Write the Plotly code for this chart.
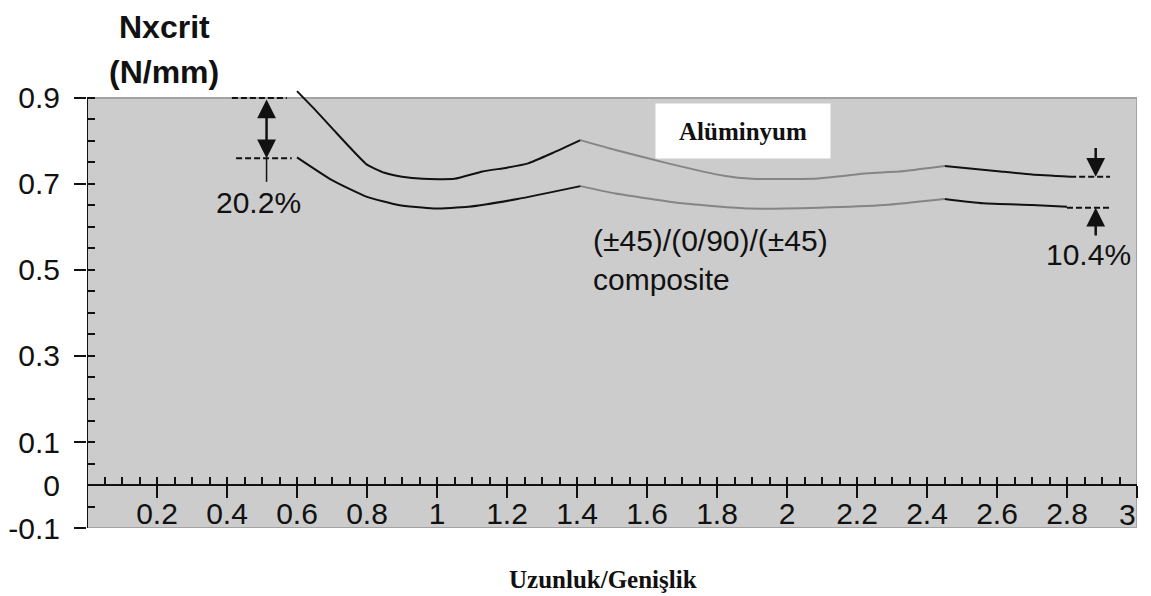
import plotly.graph_objects as go

# ---------------- data ----------------
upper_x = [0.60, 0.65, 0.70, 0.75, 0.80, 0.85, 0.90, 0.96, 1.05, 1.13, 1.20, 1.26, 1.33, 1.41,
           1.51, 1.66, 1.82, 1.90, 2.09, 2.23, 2.32, 2.45,
           2.61, 2.70, 2.81]
upper_y = [0.916, 0.874, 0.830, 0.786, 0.745, 0.726, 0.717, 0.712, 0.712, 0.729, 0.738, 0.748, 0.772, 0.802,
           0.779, 0.748, 0.719, 0.712, 0.713, 0.725, 0.729, 0.742,
           0.729, 0.722, 0.717]
lower_x = [0.60, 0.70, 0.80, 0.89, 0.99, 1.09, 1.23, 1.41,
           1.51, 1.70, 1.89, 2.09, 2.28, 2.45,
           2.56, 2.70, 2.80]
lower_y = [0.762, 0.709, 0.670, 0.651, 0.643, 0.647, 0.665, 0.695,
           0.678, 0.655, 0.643, 0.645, 0.651, 0.665,
           0.655, 0.651, 0.647]
break_points = [1.41, 2.45]          # black | gray | black
segment_colors = ["#111111", "#858585", "#111111"]

x_tick_vals = [0.2, 0.4, 0.6, 0.8, 1.0, 1.2, 1.4, 1.6, 1.8, 2.0, 2.2, 2.4, 2.6, 2.8, 3.0]
x_tick_text = ["0.2", "0.4", "0.6", "0.8", "1", "1.2", "1.4", "1.6", "1.8", "2", "2.2", "2.4", "2.6", "2.8", "3"]
y_tick_vals = [0.9, 0.7, 0.5, 0.3, 0.1, 0.0, -0.1]
y_tick_text = ["0.9", "0.7", "0.5", "0.3", "0.1", "0", "-0.1"]
y_major_ticks = [0.9, 0.7, 0.5, 0.3, 0.1, -0.1]

y_title = ["Nxcrit", "(N/mm)"]
x_title = "Uzunluk/Genişlik"
box_label = "Alüminyum"
composite_label = "(±45)/(0/90)/(±45)<br>composite"
left_pct = "20.2%"
right_pct = "10.4%"

left_gap = (0.900, 0.760)     # upper / lower levels at the start
right_gap = (0.717, 0.645)    # upper / lower levels at the end

SANS = "Liberation Sans, Arial, sans-serif"
SERIF = "Liberation Serif, Times New Roman, serif"

# the page adds an 8px body margin, so the figure is 8px smaller than the window
OFF = 8
W, H = 1151 - OFF, 596 - OFF
ML, MR, MT, MB = 79, 14, 73, 68
Y_TOP = 0.9395

fig = go.Figure()

# axis pairs used by the traces so that the overlay tick axes get drawn
axis_pairs = [("x", "y"), ("x2", "y2"), ("x", "y3")]


def add_segments(xs, ys, k):
    bounds = [min(xs)] + break_points + [max(xs)]
    for i, col in enumerate(segment_colors):
        lo, hi = bounds[i], bounds[i + 1]
        sx = [x for x in xs if lo - 1e-9 <= x <= hi + 1e-9]
        sy = [y for x, y in zip(xs, ys) if lo - 1e-9 <= x <= hi + 1e-9]
        xa, ya = axis_pairs[(k + i) % 3]
        fig.add_trace(go.Scatter(x=sx, y=sy, mode="lines", showlegend=False,
                                 xaxis=xa, yaxis=ya,
                                 line=dict(color=col, width=2, shape="spline", smoothing=0.5),
                                 hoverinfo="skip"))


add_segments(upper_x, upper_y, 0)
add_segments(lower_x, lower_y, 1)

# the last x label ("3") sits flush with the right edge, so it is drawn as an annotation
x_axis_text = x_tick_text[:-1] + [""]

xpos = 0.1 / (Y_TOP + 0.1)
common = dict(showgrid=False, zeroline=False, automargin=False)
fig.update_layout(
    width=W, height=H,
    margin=dict(l=ML, r=MR, t=MT, b=MB, autoexpand=False),
    paper_bgcolor="white", plot_bgcolor="white",
    showlegend=False,
    xaxis=dict(range=[0, 3], anchor="free", position=xpos,
               tickvals=x_tick_vals, ticktext=x_axis_text,
               ticks="outside", ticklen=12, tickwidth=2, tickcolor="#111",
               showline=True, linecolor="#111", linewidth=2,
               ticklabelstandoff=-10, ticklabeloverflow="allow",
               tickfont=dict(family=SANS, size=30, color="#111"), **common),
    xaxis2=dict(range=[0, 3], overlaying="x", anchor="free", position=xpos,
                tick0=0, dtick=0.05, ticks="inside", ticklen=8, tickwidth=2, tickcolor="#111",
                showticklabels=False, showline=False, **common),
    yaxis=dict(range=[-0.1, Y_TOP], anchor="x", tickvals=y_tick_vals, ticktext=y_tick_text,
               ticks="", showline=False, ticklabelstandoff=26, ticklabeloverflow="allow",
               tickfont=dict(family=SANS, size=30, color="#111"), **common),
    yaxis2=dict(range=[-0.1, Y_TOP], overlaying="y", anchor="x", side="left", tickvals=y_major_ticks,
                ticks="outside", ticklen=12, tickwidth=2, tickcolor="#111",
                showticklabels=False, showline=False, **common),
    yaxis3=dict(range=[-0.1, Y_TOP], overlaying="y", anchor="x", side="left", tick0=0, dtick=0.05,
                ticks="inside", ticklen=8, tickwidth=2, tickcolor="#111",
                showticklabels=False, showline=False, **common),
)

DASH = dict(color="#111", width=2, dash="6px,3px")
shapes = [
    dict(type="rect", xref="x", yref="y", x0=0, x1=3, y0=-0.1, y1=0.9,
         fillcolor="#cccccc", line=dict(color="#a3a3a3", width=2), layer="below"),
    dict(type="line", xref="x", yref="y", x0=0, x1=0, y0=-0.1, y1=0.9,
         line=dict(color="#111", width=2)),
    dict(type="line", xref="x", yref="y", x0=0.414, x1=0.571, y0=left_gap[0], y1=left_gap[0], line=DASH),
    dict(type="line", xref="x", yref="y", x0=0.426, x1=0.585, y0=left_gap[1], y1=left_gap[1], line=DASH),
    dict(type="line", xref="x", yref="y", x0=2.809, x1=2.923, y0=right_gap[0], y1=right_gap[0], line=DASH),
    dict(type="line", xref="x", yref="y", x0=2.800, x1=2.923, y0=right_gap[1], y1=right_gap[1], line=DASH),
    dict(type="line", xref="x", yref="y", x0=0.513, x1=0.513, y0=left_gap[1], y1=0.705,
         line=dict(color="#111", width=1.5)),
]
fig.update_layout(shapes=shapes)

# helpers to convert page pixel positions into paper fractions (for text outside the plot)
PW, PH = W - ML - MR, H - MT - MB


def px_x(p):
    return (p - OFF - ML) / PW


def px_y(p):
    return (H - MB - (p - OFF)) / PH


ann = []
ann.append(dict(x=0.513, y=left_gap[1], ax=0.513, ay=left_gap[0], xref="x", yref="y",
                axref="x", ayref="y", text="", showarrow=True, arrowhead=2, startarrowhead=2,
                arrowside="end+start", arrowwidth=2.5, arrowsize=1.5, startarrowsize=1.5,
                arrowcolor="#111", standoff=0, startstandoff=0))
ann.append(dict(x=2.882, y=right_gap[0], ax=2.882, ay=0.787, xref="x", yref="y",
                axref="x", ayref="y", text="", showarrow=True, arrowhead=2,
                arrowwidth=2.5, arrowsize=1.5, arrowcolor="#111", standoff=0))
ann.append(dict(x=2.882, y=right_gap[1], ax=2.882, ay=0.577, xref="x", yref="y",
                axref="x", ayref="y", text="", showarrow=True, arrowhead=2,
                arrowwidth=2.5, arrowsize=1.5, arrowcolor="#111", standoff=0))
ann.append(dict(x=0.491, y=0.658, xref="x", yref="y", text=left_pct, showarrow=False,
                font=dict(family=SANS, size=30, color="#111")))
ann.append(dict(x=2.86, y=0.535, xref="x", yref="y", text=right_pct, showarrow=False,
                font=dict(family=SANS, size=30, color="#111")))
ann.append(dict(x=1.44, y=0.523, xref="x", yref="y", text=composite_label, showarrow=False,
                xanchor="left", align="left",
                font=dict(family=SANS, size=30, color="#111")))
ann.append(dict(x=1.873, y=0.823, xref="x", yref="y", text="<b>" + box_label + "</b>",
                showarrow=False, bgcolor="white", width=174, height=54, borderpad=0,
                font=dict(family=SERIF, size=25, color="#111")))
ann.append(dict(x=x_tick_vals[-1], y=-0.068, xref="x", yref="y", text=x_tick_text[-1],
                xanchor="right", yanchor="middle", showarrow=False, borderpad=0,
                font=dict(family=SANS, size=30, color="#111")))
ann.append(dict(x=px_x(164), y=px_y(27), xref="paper", yref="paper", text="<b>" + y_title[0] + "</b>",
                xanchor="center", yanchor="middle", borderpad=0,
                showarrow=False, font=dict(family=SANS, size=32, color="#111")))
ann.append(dict(x=px_x(164), y=px_y(72), xref="paper", yref="paper", text="<b>" + y_title[1] + "</b>",
                xanchor="center", yanchor="middle", borderpad=0,
                showarrow=False, font=dict(family=SANS, size=32, color="#111")))
ann.append(dict(x=px_x(603), y=px_y(579), xref="paper", yref="paper", text="<b>" + x_title + "</b>",
                xanchor="center", yanchor="middle",
                showarrow=False, font=dict(family=SERIF, size=25, color="#111")))
fig.update_layout(annotations=ann)

fig.write_html("out.html")
